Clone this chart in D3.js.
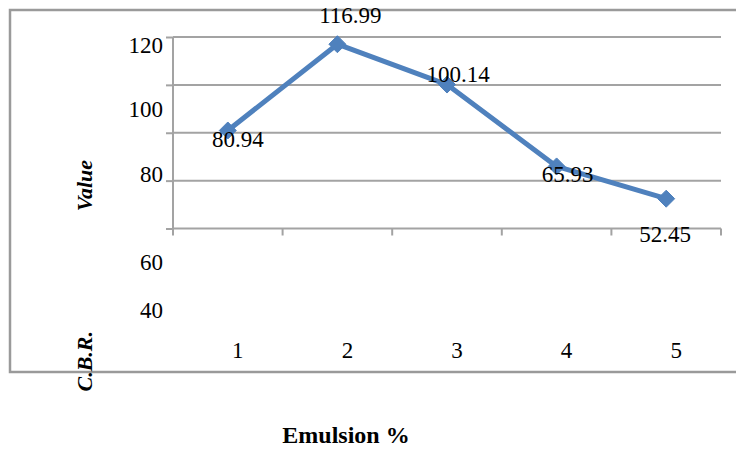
<!DOCTYPE html>
<html>
<head>
<meta charset="utf-8">
<script src="https://cdn.jsdelivr.net/npm/d3@7"></script>
<style>
  html, body { margin: 0; padding: 0; background: #fff; }
  svg { display: block; }
</style>
</head>
<body>
<svg id="chart" width="736" height="449"></svg>
<script>
// Emulsion content (%) and measured C.B.R. values
const categories = ["1", "2", "3", "4", "5"];
const cbrValues = [80.94, 116.99, 100.14, 65.93, 52.45];
const yTickValues = [40, 60, 80, 100, 120];
const xTitle = "Emulsion %";
const yTitleParts = ["C.B.R.", "Value"];

// Layout
const W = 736, H = 449;
const plot = { left: 173, right: 721, top: 37, bottom: 228.5 };
const blue = "#4F81BD";
const gridColor = "#a3a3a3";
const frameColor = "#9a9a9a";
const serif = "\"Liberation Serif\", \"Times New Roman\", serif";

// Value-label placement relative to each point (x shift, baseline shift)
const labelShift = [[10, 17], [13, -21], [11, -3], [11, 16], [-1, 43]];
// Baselines of the value-axis labels as typeset
const yLabelBaseline = [318, 270, 182, 117, 53];

const svg = d3.select("#chart");

const x = d3.scaleBand().domain(categories).range([plot.left, plot.right]).padding(0);
const y = d3.scaleLinear().domain([40, 120]).range([plot.bottom, plot.top]);
const yLabelPos = d3.scaleLinear().domain(yTickValues).range(yLabelBaseline);
const cx = c => x(c) + x.bandwidth() / 2;

// Outer frame
svg.append("path")
  .attr("d", `M${W},10 H10 V372 H${W}`)
  .attr("stroke", frameColor).attr("stroke-width", 2.5).attr("fill", "none");

// Horizontal gridlines
svg.append("g")
  .selectAll("line")
  .data(yTickValues.filter(v => v > 40))
  .join("line")
  .attr("x1", plot.left).attr("x2", plot.right)
  .attr("y1", d => y(d)).attr("y2", d => y(d))
  .attr("stroke", gridColor).attr("stroke-width", 2);

// Value axis: line and ticks
const yAxis = svg.append("g")
  .attr("transform", `translate(${plot.left},0)`)
  .call(d3.axisLeft(y).tickValues(yTickValues).tickSize(7).tickFormat(""));
yAxis.selectAll("path, line").attr("stroke", gridColor).attr("stroke-width", 2);
yAxis.select(".domain").attr("d", `M0,${plot.top}V${plot.bottom}`);

// Value-axis labels
svg.append("g")
  .selectAll("text")
  .data(yTickValues)
  .join("text")
  .attr("x", 163)
  .attr("y", d => yLabelPos(d))
  .attr("text-anchor", "end")
  .attr("font-family", serif)
  .attr("font-size", 23)
  .text(d => d);

// Category axis with ticks on band boundaries
const edges = categories.map(c => x(c)).concat([plot.right]);
const xAxisG = svg.append("g");
xAxisG.append("line")
  .attr("x1", plot.left).attr("x2", plot.right)
  .attr("y1", plot.bottom).attr("y2", plot.bottom)
  .attr("stroke", gridColor).attr("stroke-width", 2);
xAxisG.selectAll("line.tick")
  .data(edges)
  .join("line")
  .attr("class", "tick")
  .attr("x1", d => d).attr("x2", d => d)
  .attr("y1", plot.bottom).attr("y2", plot.bottom + 7)
  .attr("stroke", gridColor).attr("stroke-width", 2);

// Category labels
svg.append("g")
  .selectAll("text")
  .data(categories)
  .join("text")
  .attr("x", d => cx(d) + 10)
  .attr("y", 358)
  .attr("text-anchor", "middle")
  .attr("font-family", serif)
  .attr("font-size", 23)
  .text(d => d);

// Series line
const pts = categories.map((c, i) => [cx(c), y(cbrValues[i])]);
svg.append("path")
  .datum(pts)
  .attr("d", d3.line())
  .attr("fill", "none")
  .attr("stroke", blue)
  .attr("stroke-width", 5)
  .attr("stroke-linejoin", "round");

// Diamond markers
svg.append("g")
  .selectAll("path")
  .data(pts)
  .join("path")
  .attr("transform", d => `translate(${d[0]},${d[1]})`)
  .attr("d", "M0,-8.5L8.5,0L0,8.5L-8.5,0Z")
  .attr("fill", blue)
  .attr("stroke", blue)
  .attr("stroke-width", 1);

// Value labels
svg.append("g")
  .selectAll("text")
  .data(cbrValues)
  .join("text")
  .attr("x", (d, i) => pts[i][0] + labelShift[i][0])
  .attr("y", (d, i) => y(d) + labelShift[i][1])
  .attr("text-anchor", "middle")
  .attr("font-family", serif)
  .attr("font-size", 23)
  .text(d => d.toFixed(2));

// Axis titles
svg.append("text")
  .attr("x", 346).attr("y", 443)
  .attr("text-anchor", "middle")
  .attr("font-family", serif)
  .attr("font-size", 24)
  .attr("font-weight", "bold")
  .text(xTitle);

const yTitle = svg.append("g")
  .attr("font-family", serif)
  .attr("font-size", 22)
  .attr("font-weight", "bold")
  .attr("font-style", "italic");
yTitle.append("text")
  .attr("transform", "translate(92,331) rotate(-90)")
  .attr("text-anchor", "end")
  .text(yTitleParts[0]);
yTitle.append("text")
  .attr("transform", "translate(92,160) rotate(-90)")
  .attr("text-anchor", "end")
  .text(yTitleParts[1]);
</script>
</body>
</html>
